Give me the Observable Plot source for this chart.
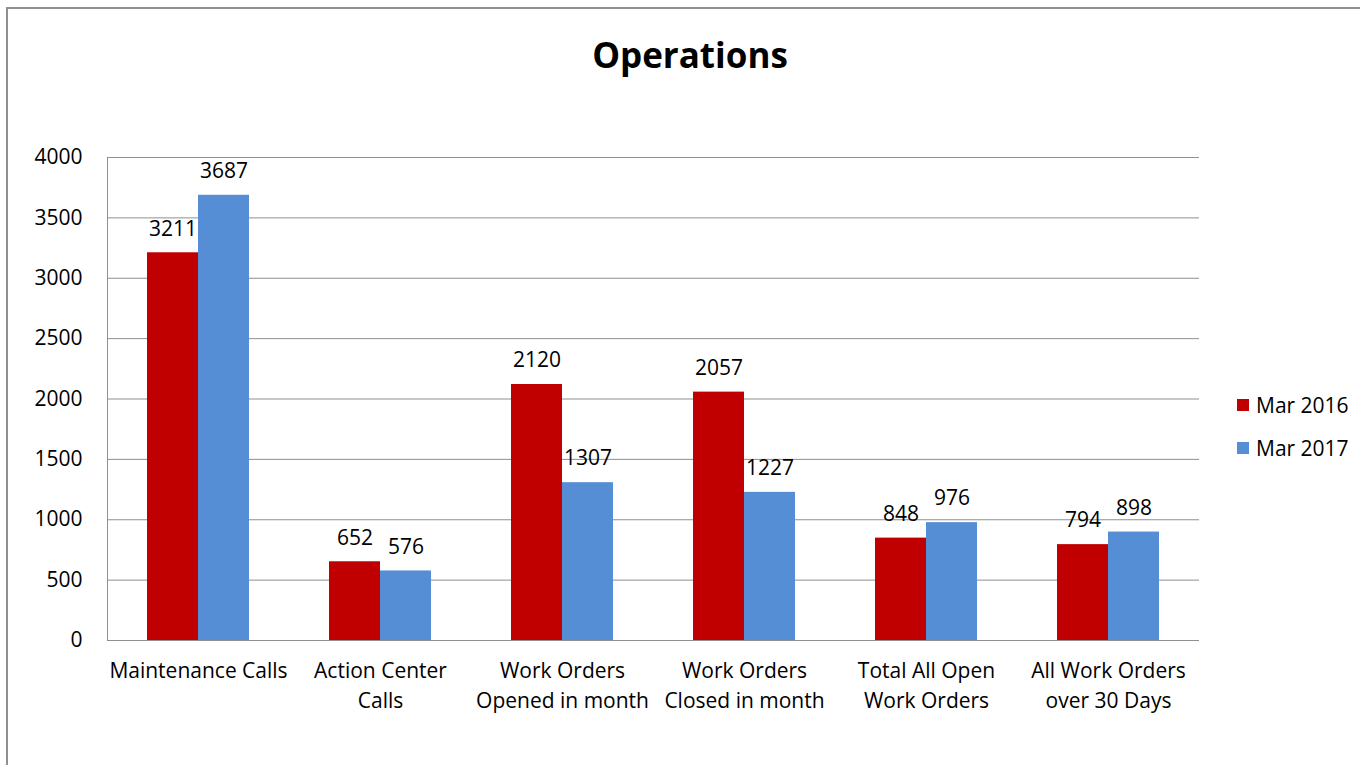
<!DOCTYPE html>
<html>
<head>
<meta charset="utf-8">
<script src="https://cdn.jsdelivr.net/npm/d3@7"></script>
<script src="https://cdn.jsdelivr.net/npm/@observablehq/plot@0.6"></script>
<style>
  html, body { margin: 0; padding: 0; background: #fff; }
  #wrap { position: relative; width: 1367px; height: 765px; overflow: hidden; font-family: "Open Sans", sans-serif; color: #000; }
  #frame { position: absolute; left: 6px; top: 7px; width: 1352px; height: 800px; border-left: 2px solid #8f8f8f; border-top: 2px solid #8f8f8f; }
  #title { position: absolute; left: 440px; width: 500px; top: 30px; text-align: center; font-size: 35px; line-height: 50px; font-weight: 700; }
  #chart { position: absolute; left: 0; top: 0; }
  #legend { position: absolute; left: 1237px; top: 391px; font-size: 21px; }
  .item { display: flex; align-items: center; height: 28px; margin-bottom: 15px; }
  .sw { width: 12px; height: 12px; margin-right: 7px; }
</style>
</head>
<body>
<div id="wrap">
  <div id="frame"></div>
  <div id="title">Operations</div>
  <div id="chart"></div>
  <div id="legend"></div>
</div>
<script>
const categories = ["Maintenance Calls", "Action Center Calls", "Work Orders Opened in month", "Work Orders Closed in month", "Total All Open Work Orders", "All Work Orders over 30 Days"];
const categoryLabels = ["Maintenance Calls", "Action Center\nCalls", "Work Orders\nOpened in month", "Work Orders\nClosed in month", "Total All Open\nWork Orders", "All Work Orders\nover 30 Days"];
const series = ["Mar 2016", "Mar 2017"];
const mar2016 = [3211, 652, 2120, 2057, 848, 794];
const mar2017 = [3687, 576, 1307, 1227, 976, 898];
const colors = ["#C00000", "#558ED5"];
const yTicks = [0, 500, 1000, 1500, 2000, 2500, 3000, 3500, 4000];

const data = categories.flatMap((c, i) => [
  {cat: c, series: series[0], value: mar2016[i]},
  {cat: c, series: series[1], value: mar2017[i]}
]);
const labelOf = new Map(categories.map((c, i) => [c, categoryLabels[i]]));

const chart = Plot.plot({
  width: 1200,
  height: 765,
  marginLeft: 105,
  marginRight: 0,
  marginTop: 157,
  marginBottom: 125,
  style: {fontFamily: "Open Sans, sans-serif", fontSize: "21px", color: "#000", background: "transparent", overflow: "visible"},
  fx: {domain: categories, padding: 0, label: null},
  x: {domain: series, paddingInner: 0, paddingOuter: 0.77, axis: null},
  y: {domain: [0, 4000], label: null},
  color: {domain: series, range: colors},
  marks: [
    Plot.gridY(yTicks, {stroke: "#8f8f8f", strokeOpacity: 1, strokeWidth: 1}),
    Plot.barY(data, {fx: "cat", x: "series", y: "value", fill: "series"}),
    Plot.text(data, {fx: "cat", x: "series", y: "value", text: d => String(d.value), dy: -24, fontSize: 21, fill: "#000"}),
    Plot.axisY(yTicks, {tickSize: 0, tickPadding: 25, fontSize: 21, label: null, tickFormat: d => String(d)}),
    Plot.frame({anchor: "left", stroke: "#8f8f8f", facetAnchor: "left"}),
    Plot.axisFx({anchor: "bottom", tickSize: 0, tickPadding: 16, fontSize: 21, lineHeight: 1.43, label: null, tickFormat: d => labelOf.get(d)})
  ]
});
document.getElementById("chart").appendChild(chart);

const legend = document.getElementById("legend");
series.forEach((s, i) => {
  const item = document.createElement("div");
  item.className = "item";
  const sw = document.createElement("span");
  sw.className = "sw";
  sw.style.background = colors[i];
  const t = document.createElement("span");
  t.textContent = s;
  item.appendChild(sw);
  item.appendChild(t);
  legend.appendChild(item);
});
</script>
</body>
</html>
